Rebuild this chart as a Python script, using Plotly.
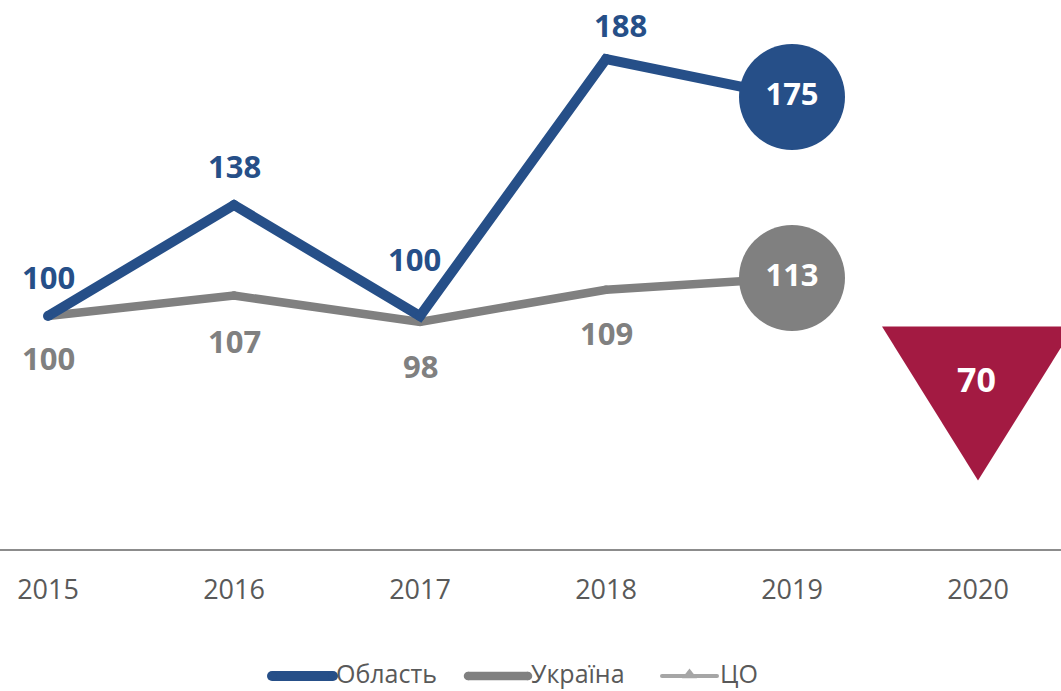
import plotly.graph_objects as go

# --- data -------------------------------------------------------------
years = ["2015", "2016", "2017", "2018", "2019", "2020"]
oblast = [100, 138, 100, 188, 175]
ukraine = [100, 107, 98, 109, 113]
co_2020 = 70

legend_names = ["Область", "Україна", "ЦО"]

# --- styling ----------------------------------------------------------
BLUE = "#264F88"
GREY = "#808080"
RED = "#A31A42"
LIGHT_GREY = "#A6A6A6"
TEXT_GREY = "#595959"
FONT = "Open Sans"

W, H = 1061, 691
# axis geometry: category step in px, value scale in px per unit
X0_PX, STEP_PX = 48, 186
Y100_PX, PX_PER_UNIT = 316, 2.92
AXIS_PX = 550

x_range = [-X0_PX / STEP_PX, (W - X0_PX) / STEP_PX]
y_range = [100 - (H - Y100_PX) / PX_PER_UNIT, 100 + Y100_PX / PX_PER_UNIT]

xi = list(range(len(years)))

fig = go.Figure()

# Україна line (drawn first, under the regional line)
fig.add_trace(go.Scatter(
    x=xi[:len(ukraine)], y=ukraine, mode="lines+markers",
    line=dict(color=GREY, width=8.5),
    marker=dict(color=GREY, size=8.5),
    hoverinfo="skip", showlegend=False,
))
# Область line
fig.add_trace(go.Scatter(
    x=xi[:len(oblast)], y=oblast, mode="lines+markers",
    line=dict(color=BLUE, width=10),
    marker=dict(color=BLUE, size=10),
    hoverinfo="skip", showlegend=False,
))

# 2019 end-point bubbles
for series, col in ((ukraine, GREY), (oblast, BLUE)):
    fig.add_trace(go.Scatter(
        x=[xi[len(series) - 1]], y=[series[-1]], mode="markers+text",
        marker=dict(color=col, size=106, line=dict(width=0)),
        text=[str(series[-1])], textposition="middle center",
        textfont=dict(family=FONT, size=31, color="white", weight="bold"),
        hoverinfo="skip", showlegend=False, cliponaxis=False,
    ))

# ЦО 2020 triangle marker, centred on its value
half_w = 96 / STEP_PX
half_h = 77 / PX_PER_UNIT
cx = xi[5]
fig.add_trace(go.Scatter(
    x=[cx - half_w, cx + half_w, cx, cx - half_w],
    y=[co_2020 + half_h, co_2020 + half_h, co_2020 - half_h, co_2020 + half_h],
    mode="lines", fill="toself", fillcolor=RED,
    line=dict(width=0, color=RED),
    hoverinfo="skip", showlegend=False,
))

annotations = []

def label(x, y, txt, color, dx=0, dy=0, size=31):
    annotations.append(dict(
        x=x, y=y, xref="x", yref="y", text=txt, showarrow=False,
        xshift=dx, yshift=dy,
        font=dict(family=FONT, size=size, color=color, weight="bold"),
    ))

# Область labels (above the line)
obl_shift = [(0, 39), (0, 39), (-6, 57), (14, 34)]
for i, (dx, dy) in enumerate(obl_shift):
    label(xi[i], oblast[i], str(oblast[i]), BLUE, dx, dy)
# Україна labels (below the line)
ukr_shift = [(0, -42), (0, -45), (0, -44), (0, -43)]
for i, (dx, dy) in enumerate(ukr_shift):
    label(xi[i], ukraine[i], str(ukraine[i]), GREY, dx, dy)
# value inside the triangle
label(cx, co_2020, str(co_2020), "white", -2, 25, size=34)

# --- legend drawn on a pixel-unit overlay axis ---------------------------
LEG_Y = 676
leg_items = [
    (legend_names[0], BLUE, 10, 272, 333, None),
    (legend_names[1], GREY, 8.5, 468, 528, None),
    (legend_names[2], LIGHT_GREY, 4, 662, 717, "triangle-up"),
]
for name, col, lw, xa, xb, sym in leg_items:
    fig.add_trace(go.Scatter(
        x=[xa, xb], y=[LEG_Y, LEG_Y], mode="lines+markers",
        line=dict(color=col, width=lw),
        marker=dict(color=col, size=lw),
        xaxis="x2", yaxis="y2", hoverinfo="skip", showlegend=False,
    ))
    if sym:
        fig.add_trace(go.Scatter(
            x=[(xa + xb) / 2], y=[LEG_Y - 1], mode="markers",
            marker=dict(color=col, size=13, symbol=sym),
            xaxis="x2", yaxis="y2", hoverinfo="skip", showlegend=False,
        ))
    annotations.append(dict(
        x=xb + 1, y=LEG_Y - 3, xref="x2", yref="y2", text=name,
        showarrow=False, xanchor="left", yanchor="middle",
        font=dict(family=FONT, size=25, color=TEXT_GREY),
    ))

fig.update_layout(
    width=W, height=H,
    margin=dict(l=0, r=0, t=0, b=0),
    paper_bgcolor="white", plot_bgcolor="white",
    xaxis=dict(
        range=x_range, tickmode="array", tickvals=xi, ticktext=years,
        showgrid=False, zeroline=False, showline=True,
        linecolor="#8C8C8C", linewidth=2, ticks="",
        anchor="free", position=1 - AXIS_PX / H,
        tickfont=dict(family=FONT, size=27, color=TEXT_GREY),
        ticklabelstandoff=16,
    ),
    yaxis=dict(range=y_range, visible=False),
    xaxis2=dict(range=[0, W], overlaying="x", visible=False),
    yaxis2=dict(range=[H, 0], overlaying="y", visible=False),
    annotations=annotations,
    showlegend=False,
)

fig.write_html("out.html")
